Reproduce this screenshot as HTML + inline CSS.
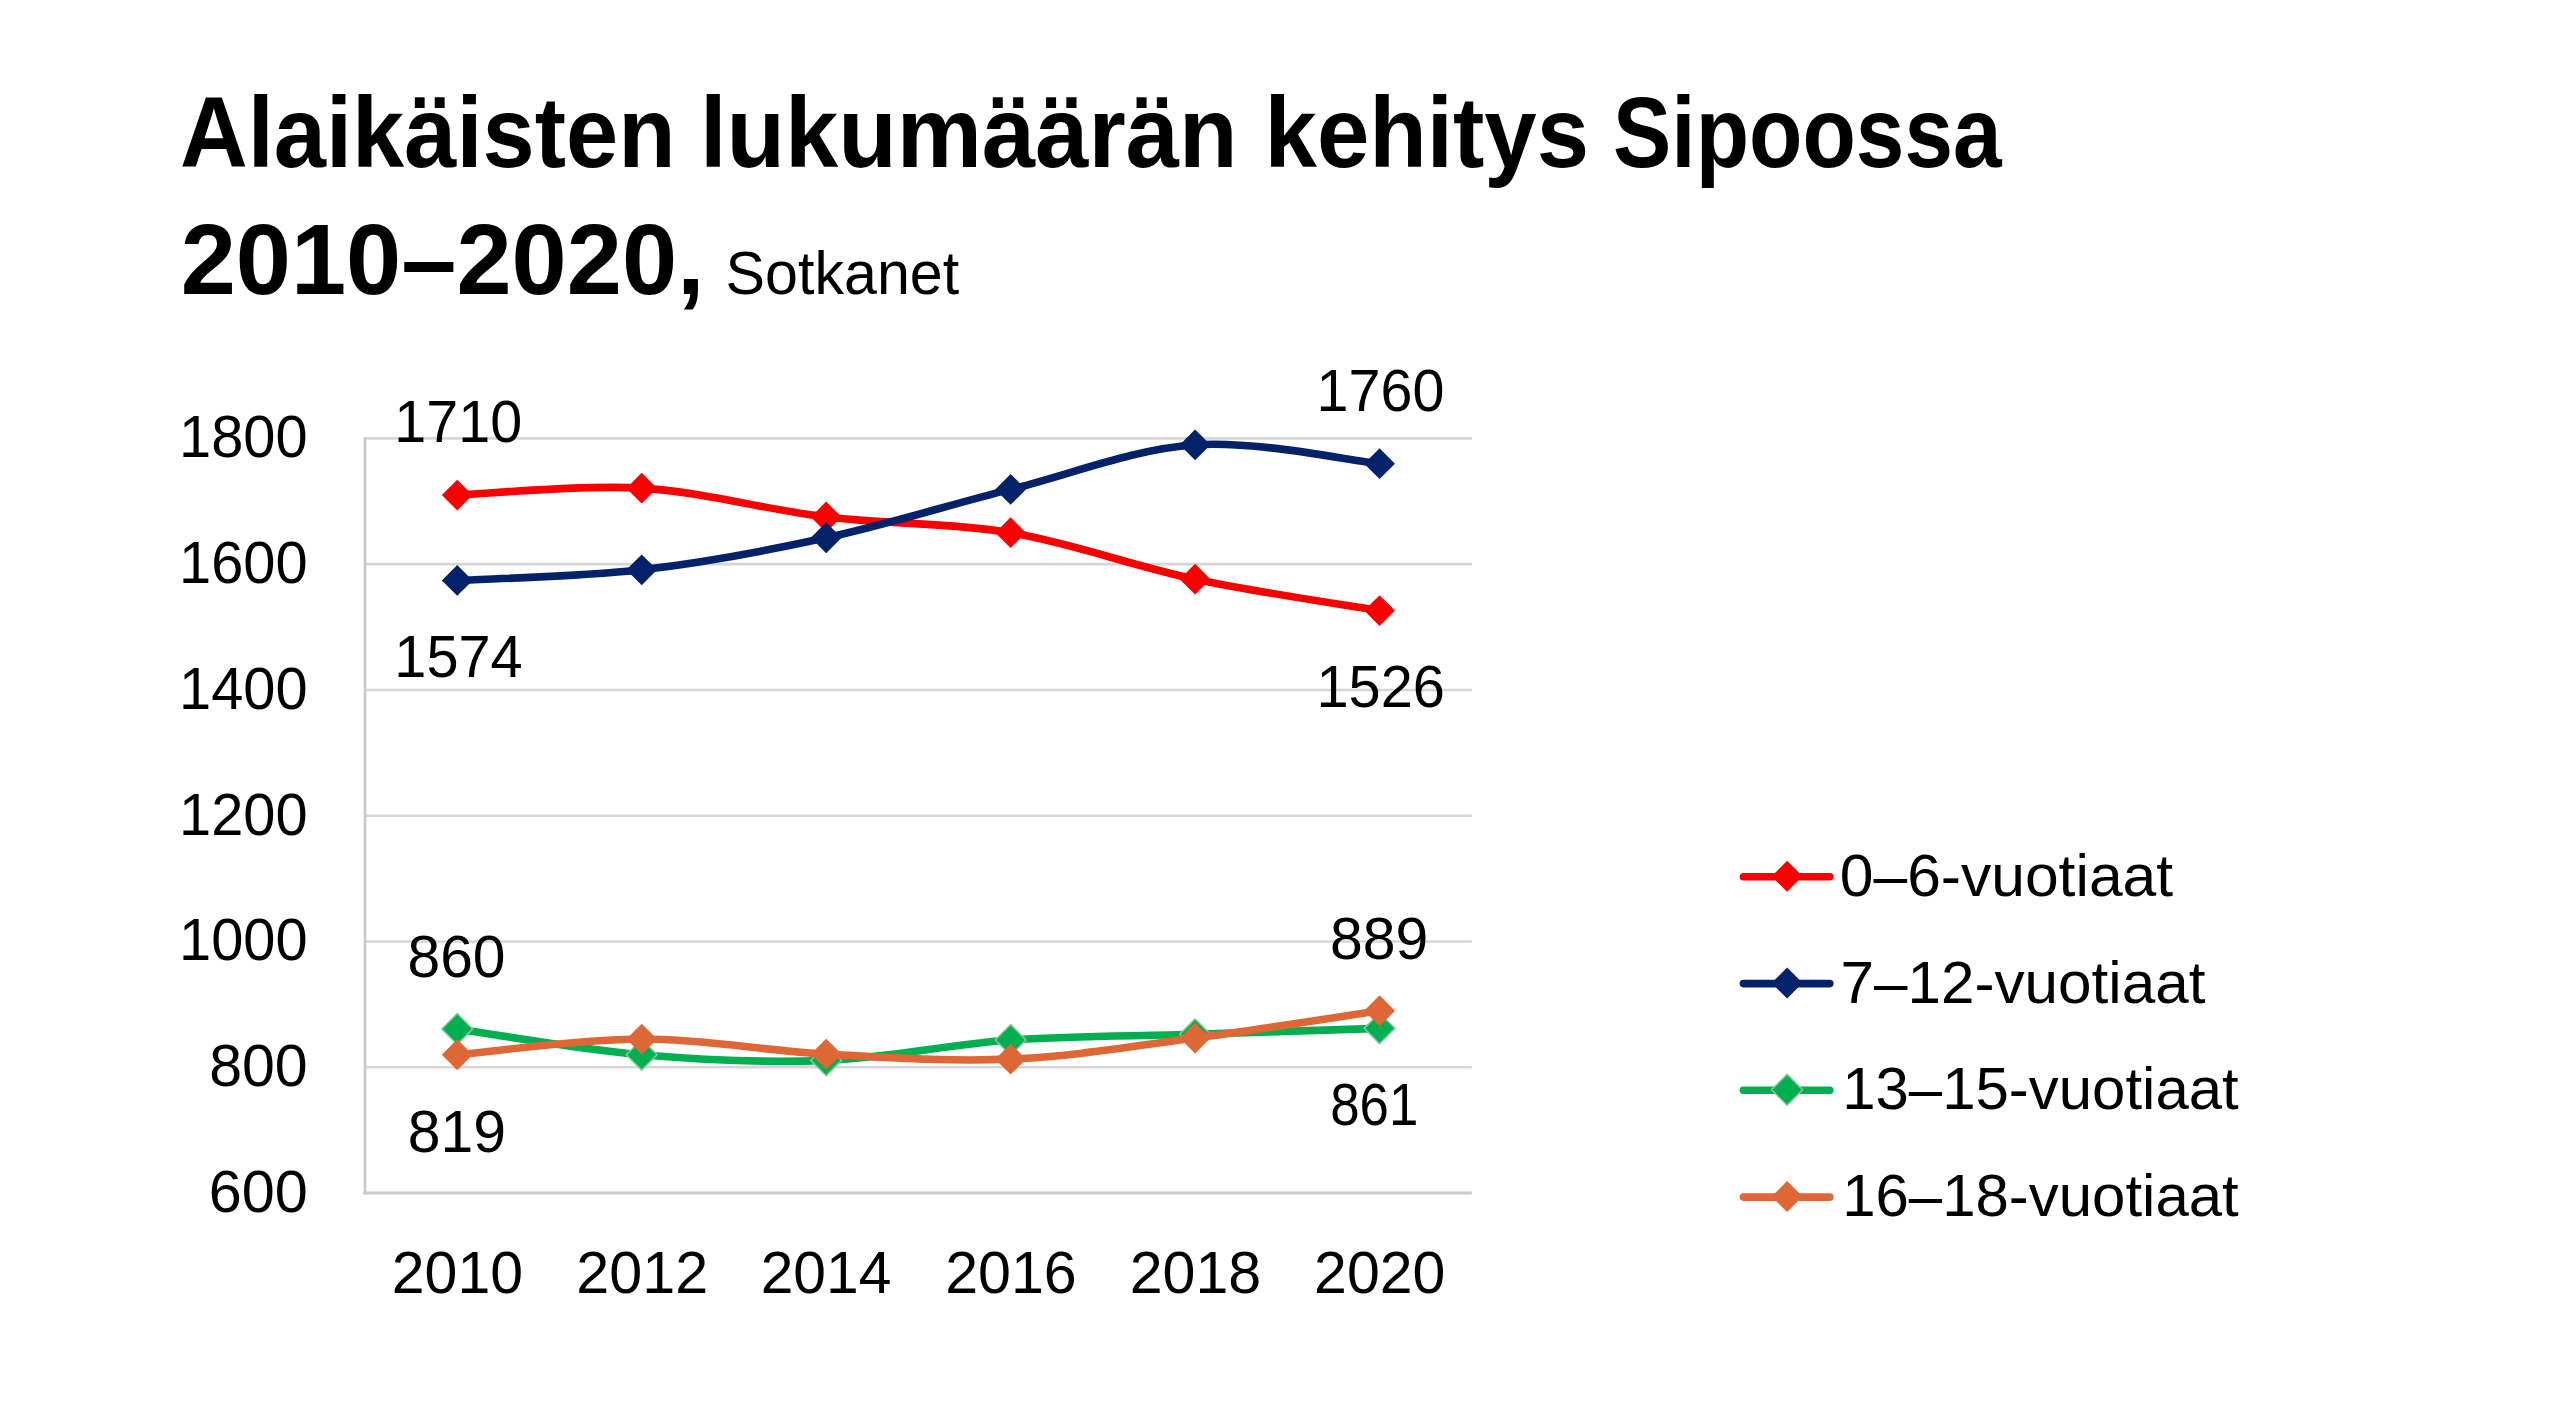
<!DOCTYPE html><html><head><meta charset="utf-8"><style>html,body{margin:0;padding:0;background:#fff;width:2560px;height:1402px;overflow:hidden}svg{display:block}text{font-family:"Liberation Sans",sans-serif;font-kerning:none}</style></head><body>
<svg width="2560" height="1402" viewBox="0 0 2560 1402">
<rect width="2560" height="1402" fill="#fff"/>
<text transform="translate(179.96 166.80) scale(0.9385 1)" font-size="100.00" font-weight="bold" fill="#000">Alaikäisten</text>
<text transform="translate(699.91 166.80) scale(0.9580 1)" font-size="100.00" font-weight="bold" fill="#000">lukumäärän</text>
<text transform="translate(1264.52 166.80) scale(0.9417 1)" font-size="100.00" font-weight="bold" fill="#000">kehitys</text>
<text transform="translate(1613.08 166.80) scale(0.8740 1)" font-size="100.00" font-weight="bold" fill="#000">Sipoossa</text>
<text transform="translate(180.66 294.10) scale(0.9918 1)" font-size="100.00" font-weight="bold" fill="#000">2010–2020,</text>
<text transform="translate(725.61 294.20) scale(0.9703 1)" font-size="61.00" font-weight="normal" fill="#000">Sotkanet</text>
<line x1="365.00" y1="438.40" x2="1471.80" y2="438.40" stroke="#D6D6D6" stroke-width="2.6"/>
<line x1="365.00" y1="564.17" x2="1471.80" y2="564.17" stroke="#D6D6D6" stroke-width="2.6"/>
<line x1="365.00" y1="689.93" x2="1471.80" y2="689.93" stroke="#D6D6D6" stroke-width="2.6"/>
<line x1="365.00" y1="815.70" x2="1471.80" y2="815.70" stroke="#D6D6D6" stroke-width="2.6"/>
<line x1="365.00" y1="941.47" x2="1471.80" y2="941.47" stroke="#D6D6D6" stroke-width="2.6"/>
<line x1="365.00" y1="1067.23" x2="1471.80" y2="1067.23" stroke="#D6D6D6" stroke-width="2.6"/>
<line x1="363.60" y1="1193.00" x2="1471.80" y2="1193.00" stroke="#CACACA" stroke-width="2.8"/>
<line x1="365.00" y1="437.10" x2="365.00" y2="1194.40" stroke="#CACACA" stroke-width="2.8"/>
<text transform="translate(179.10 457.30) scale(0.9713 1)" font-size="59.50" font-weight="normal" fill="#000">1800</text>
<text transform="translate(179.10 583.07) scale(0.9713 1)" font-size="59.50" font-weight="normal" fill="#000">1600</text>
<text transform="translate(179.10 708.83) scale(0.9713 1)" font-size="59.50" font-weight="normal" fill="#000">1400</text>
<text transform="translate(179.10 834.60) scale(0.9713 1)" font-size="59.50" font-weight="normal" fill="#000">1200</text>
<text transform="translate(179.10 960.37) scale(0.9713 1)" font-size="59.50" font-weight="normal" fill="#000">1000</text>
<text transform="translate(209.13 1086.13) scale(0.9930 1)" font-size="59.50" font-weight="normal" fill="#000">800</text>
<text transform="translate(208.69 1211.90) scale(0.9976 1)" font-size="59.50" font-weight="normal" fill="#000">600</text>
<text transform="translate(391.77 1293.30) scale(0.9918 1)" font-size="59.50" font-weight="normal" fill="#000">2010</text>
<text transform="translate(576.22 1293.30) scale(0.9970 1)" font-size="59.50" font-weight="normal" fill="#000">2012</text>
<text transform="translate(760.71 1293.30) scale(0.9872 1)" font-size="59.50" font-weight="normal" fill="#000">2014</text>
<text transform="translate(945.16 1293.30) scale(0.9940 1)" font-size="59.50" font-weight="normal" fill="#000">2016</text>
<text transform="translate(1129.63 1293.30) scale(0.9938 1)" font-size="59.50" font-weight="normal" fill="#000">2018</text>
<text transform="translate(1314.10 1293.30) scale(0.9918 1)" font-size="59.50" font-weight="normal" fill="#000">2020</text>
<path d="M457.23 495.03 C487.98 493.88 580.21 484.46 641.70 488.13 C703.19 491.79 764.68 509.59 826.17 517.02 C887.66 524.45 949.14 522.36 1010.63 532.73 C1072.12 543.09 1133.61 566.23 1195.10 579.21 C1256.59 592.19 1348.82 605.38 1379.57 610.62" fill="none" stroke="#FA0000" stroke-width="7.6" stroke-linejoin="round" stroke-linecap="round"/>
<polygon points="457.23,479.63 472.63,495.03 457.23,510.43 441.83,495.03" fill="#FA0000"/>
<polygon points="641.70,472.73 657.10,488.13 641.70,503.53 626.30,488.13" fill="#FA0000"/>
<polygon points="826.17,501.62 841.57,517.02 826.17,532.42 810.77,517.02" fill="#FA0000"/>
<polygon points="1010.63,517.33 1026.03,532.73 1010.63,548.12 995.23,532.73" fill="#FA0000"/>
<polygon points="1195.10,563.81 1210.50,579.21 1195.10,594.61 1179.70,579.21" fill="#FA0000"/>
<polygon points="1379.57,595.22 1394.97,610.62 1379.57,626.02 1364.17,610.62" fill="#FA0000"/>
<path d="M457.23 580.47 C487.98 578.69 580.21 576.91 641.70 569.79 C703.19 562.67 764.68 551.15 826.17 537.75 C887.66 524.35 949.14 504.88 1010.63 489.38 C1072.12 473.89 1133.61 449.07 1195.10 444.78 C1256.59 440.49 1348.82 460.49 1379.57 463.63" fill="none" stroke="#03226A" stroke-width="7.6" stroke-linejoin="round" stroke-linecap="round"/>
<polygon points="457.23,565.07 472.63,580.47 457.23,595.87 441.83,580.47" fill="#03226A"/>
<polygon points="641.70,554.39 657.10,569.79 641.70,585.19 626.30,569.79" fill="#03226A"/>
<polygon points="826.17,522.35 841.57,537.75 826.17,553.15 810.77,537.75" fill="#03226A"/>
<polygon points="1010.63,473.98 1026.03,489.38 1010.63,504.78 995.23,489.38" fill="#03226A"/>
<polygon points="1195.10,429.38 1210.50,444.78 1195.10,460.18 1179.70,444.78" fill="#03226A"/>
<polygon points="1379.57,448.23 1394.97,463.63 1379.57,479.03 1364.17,463.63" fill="#03226A"/>
<path d="M457.23 1028.98 C487.98 1033.27 580.21 1049.50 641.70 1054.73 C703.19 1059.97 764.68 1062.85 826.17 1060.38 C887.66 1057.92 949.14 1044.31 1010.63 1039.97 C1072.12 1035.62 1133.61 1036.25 1195.10 1034.32 C1256.59 1032.38 1348.82 1029.34 1379.57 1028.35" fill="none" stroke="#00B050" stroke-width="7.6" stroke-linejoin="round" stroke-linecap="round"/>
<polygon points="457.23,1013.58 472.63,1028.98 457.23,1044.38 441.83,1028.98" fill="#00B050" stroke="#86C79A" stroke-width="1.5"/>
<polygon points="641.70,1039.33 657.10,1054.73 641.70,1070.13 626.30,1054.73" fill="#00B050" stroke="#86C79A" stroke-width="1.5"/>
<polygon points="826.17,1044.98 841.57,1060.38 826.17,1075.79 810.77,1060.38" fill="#00B050" stroke="#86C79A" stroke-width="1.5"/>
<polygon points="1010.63,1024.57 1026.03,1039.97 1010.63,1055.37 995.23,1039.97" fill="#00B050" stroke="#86C79A" stroke-width="1.5"/>
<polygon points="1195.10,1018.92 1210.50,1034.32 1195.10,1049.72 1179.70,1034.32" fill="#00B050" stroke="#86C79A" stroke-width="1.5"/>
<polygon points="1379.57,1012.95 1394.97,1028.35 1379.57,1043.75 1364.17,1028.35" fill="#00B050" stroke="#86C79A" stroke-width="1.5"/>
<path d="M457.23 1054.73 C487.98 1052.11 580.21 1039.13 641.70 1039.03 C703.19 1038.92 764.68 1050.75 826.17 1054.10 C887.66 1057.45 949.14 1061.80 1010.63 1059.13 C1072.12 1056.46 1133.61 1046.15 1195.10 1038.09 C1256.59 1030.02 1348.82 1015.31 1379.57 1010.76" fill="none" stroke="#DF6736" stroke-width="7.6" stroke-linejoin="round" stroke-linecap="round"/>
<polygon points="457.23,1039.33 472.63,1054.73 457.23,1070.13 441.83,1054.73" fill="#DF6736"/>
<polygon points="641.70,1023.63 657.10,1039.03 641.70,1054.43 626.30,1039.03" fill="#DF6736"/>
<polygon points="826.17,1038.70 841.57,1054.10 826.17,1069.50 810.77,1054.10" fill="#DF6736"/>
<polygon points="1010.63,1043.73 1026.03,1059.13 1010.63,1074.53 995.23,1059.13" fill="#DF6736"/>
<polygon points="1195.10,1022.69 1210.50,1038.09 1195.10,1053.49 1179.70,1038.09" fill="#DF6736"/>
<polygon points="1379.57,995.36 1394.97,1010.76 1379.57,1026.16 1364.17,1010.76" fill="#DF6736"/>
<text transform="translate(394.37 442.00) scale(0.9661 1)" font-size="59.50" font-weight="normal" fill="#000">1710</text>
<text transform="translate(394.36 676.50) scale(0.9696 1)" font-size="59.50" font-weight="normal" fill="#000">1574</text>
<text transform="translate(1316.52 411.20) scale(0.9665 1)" font-size="59.50" font-weight="normal" fill="#000">1760</text>
<text transform="translate(1316.50 706.70) scale(0.9711 1)" font-size="59.50" font-weight="normal" fill="#000">1526</text>
<text transform="translate(407.45 977.20) scale(0.9877 1)" font-size="59.50" font-weight="normal" fill="#000">860</text>
<text transform="translate(407.69 1151.90) scale(0.9902 1)" font-size="59.50" font-weight="normal" fill="#000">819</text>
<text transform="translate(1329.94 958.80) scale(0.9907 1)" font-size="59.50" font-weight="normal" fill="#000">889</text>
<text transform="translate(1330.20 1125.00) scale(0.8882 1)" font-size="59.50" font-weight="normal" fill="#000">861</text>
<line x1="1743.4" y1="876.80" x2="1829.8" y2="876.80" stroke="#FA0000" stroke-width="7.6" stroke-linecap="round"/>
<polygon points="1787.10,860.80 1802.60,876.30 1787.10,891.80 1771.60,876.30" fill="#FA0000"/>
<text transform="translate(1839.83 895.60) scale(1.0178 1)" font-size="59.50" font-weight="normal" fill="#000">0–6-vuotiaat</text>
<line x1="1743.4" y1="983.60" x2="1829.8" y2="983.60" stroke="#03226A" stroke-width="7.6" stroke-linecap="round"/>
<polygon points="1787.10,967.60 1802.60,983.10 1787.10,998.60 1771.60,983.10" fill="#03226A"/>
<text transform="translate(1840.41 1002.60) scale(1.0124 1)" font-size="59.50" font-weight="normal" fill="#000">7–12-vuotiaat</text>
<line x1="1743.4" y1="1090.30" x2="1829.8" y2="1090.30" stroke="#00B050" stroke-width="7.6" stroke-linecap="round"/>
<polygon points="1787.10,1074.30 1802.60,1089.80 1787.10,1105.30 1771.60,1089.80" fill="#00B050" stroke="#86C79A" stroke-width="1.5"/>
<text transform="translate(1842.13 1108.80) scale(1.0075 1)" font-size="59.50" font-weight="normal" fill="#000">13–15-vuotiaat</text>
<line x1="1743.4" y1="1197.10" x2="1829.8" y2="1197.10" stroke="#DF6736" stroke-width="7.6" stroke-linecap="round"/>
<polygon points="1787.10,1181.10 1802.60,1196.60 1787.10,1212.10 1771.60,1196.60" fill="#DF6736"/>
<text transform="translate(1842.13 1215.60) scale(1.0075 1)" font-size="59.50" font-weight="normal" fill="#000">16–18-vuotiaat</text>
</svg></body></html>
